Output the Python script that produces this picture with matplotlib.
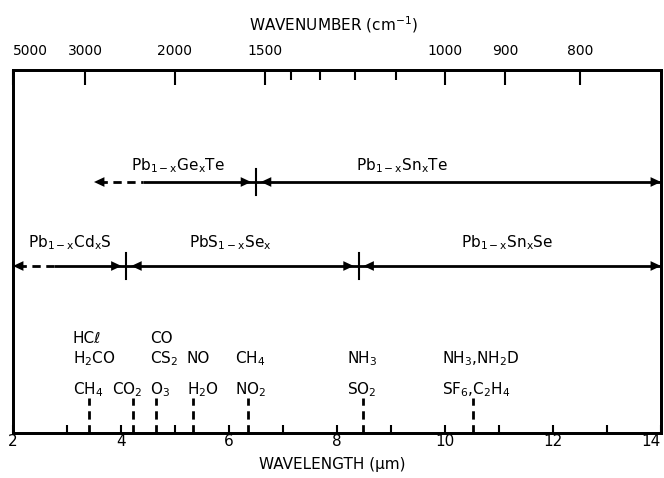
import matplotlib
matplotlib.use('Agg')
import matplotlib.pyplot as plt

plt.rcParams['font.family'] = ['Liberation Sans Narrow', 'DejaVu Sans']
plt.rcParams['mathtext.default'] = 'regular'

# alloy tuning ranges (wavelength, um)
alloy_names = [r'Pb$_{1-x}$Ge$_x$Te', r'Pb$_{1-x}$Sn$_x$Te',
               r'Pb$_{1-x}$Cd$_x$S', r'PbS$_{1-x}$Se$_x$', r'Pb$_{1-x}$Sn$_x$Se']
alloy_start = [3.5, 6.5, 2.0, 4.1, 8.4]
alloy_end = [6.5, 14.0, 4.1, 8.4, 14.0]
alloy_dashed_to = [4.4, 6.5, 2.75, 4.1, 8.4]   # uncertain (dashed) part
alloy_row = [0, 0, 1, 1, 1]
alloy_label_x = [5.05, 9.2, 3.05, 6.02, 11.15]

# gas absorption lines
gas_wl = [3.4, 4.22, 4.65, 5.33, 6.35, 8.48, 10.52]
gas_text_x = [3.11, 3.83, 4.54, 5.22, 6.11, 8.19, 9.94]
gas_low = [r'CH$_4$', r'CO$_2$', r'O$_3$', r'H$_2$O', r'NO$_2$', r'SO$_2$', r'SF$_6$,C$_2$H$_4$']
gas_mid = [r'H$_2$CO', '', r'CS$_2$', 'NO', r'CH$_4$', r'NH$_3$', r'NH$_3$,NH$_2$D']
gas_top = ['HCℓ', '', 'CO', '', '', '', '']

# top axis
wn_major = [5000, 3000, 2000, 1500, 1000, 900, 800]
wn_minor = [1400, 1300, 1200, 1100]

row_y = [251, 167]
label_y = [263, 186]
fs = 11

fig = plt.figure(figsize=(6.64, 4.78), dpi=100)
ax = fig.add_axes([13 / 664, 45 / 478, 648 / 664, 363 / 478])
ax.set_xlim(2, 14)
ax.set_ylim(0, 363)
for s in ax.spines.values():
    s.set_linewidth(2)

ax.set_xticks([2, 4, 6, 8, 10, 12, 14])
ax.set_xticks([3, 5, 7, 9, 11, 13], minor=True)
ax.tick_params(axis='x', which='both', direction='in', length=6, width=1.5, pad=1, labelsize=fs)
ax.tick_params(axis='y', left=False, labelleft=False)
ax.get_xticklabels()[-1].set_ha('right')

for i, name in enumerate(alloy_names):
    y = row_y[alloy_row[i]]
    a, b, d = alloy_start[i], alloy_end[i], alloy_dashed_to[i]
    if d > a:
        ax.plot([a + 0.1, d], [y, y], color='k', lw=2, ls=(0, (3, 2)))
    ax.plot([d, b], [y, y], color='k', lw=2, solid_capstyle='butt')
    # arrowheads pointing outwards, small gap at junctions
    others = [j for j in range(len(alloy_names)) if j != i and alloy_row[j] == alloy_row[i]]
    ga = 0.09 if any(alloy_end[j] == a for j in others) else 0
    gb = 0.09 if any(alloy_start[j] == b for j in others) else 0
    for tip, sgn in [(a + ga, -1), (b - gb, 1)]:
        ax.annotate('', xy=(tip, y), xytext=(tip - sgn * 0.3, y),
                    arrowprops=dict(arrowstyle='-|>,head_length=0.75,head_width=0.35',
                                    color='k', lw=0, shrinkA=0, shrinkB=0),
                    annotation_clip=False)
    if gb:
        ax.plot([b, b], [y - 13, y + 13], color='k', lw=1.5)
    ax.text(alloy_label_x[i], label_y[alloy_row[i]], name, ha='center', va='baseline', fontsize=fs)

for i, wl in enumerate(gas_wl):
    ax.plot([wl, wl], [0, 35], color='k', lw=2, ls=(0, (3, 2)))
    ax.text(gas_text_x[i], 39, gas_low[i], ha='left', va='baseline', fontsize=fs)
    ax.text(gas_text_x[i], 70, gas_mid[i], ha='left', va='baseline', fontsize=fs)
    ax.text(gas_text_x[i], 90, gas_top[i], ha='left', va='baseline', fontsize=fs)

ax2 = ax.twiny()
ax2.set_xlim(2, 14)
ax2.set_xticks([1e4 / w for w in wn_major])
ax2.set_xticklabels([str(w) for w in wn_major])
ax2.set_xticks([1e4 / w for w in wn_minor], minor=True)
ax2.tick_params(axis='x', which='major', direction='in', length=11, width=1.5, pad=9, labelsize=fs - 1)
ax2.tick_params(axis='x', which='minor', direction='in', length=7, width=1.5)
ax2.get_xticklabels()[0].set_ha('left')
for s in ax2.spines.values():
    s.set_linewidth(2)

fig.text(333 / 664, 1 - 25 / 478, r'WAVENUMBER (cm$^{-1}$)', ha='center', va='center', fontsize=fs)
fig.text(332 / 664, 1 - 465 / 478, 'WAVELENGTH (µm)', ha='center', va='center', fontsize=fs)

fig.savefig('out.png', dpi=100)
